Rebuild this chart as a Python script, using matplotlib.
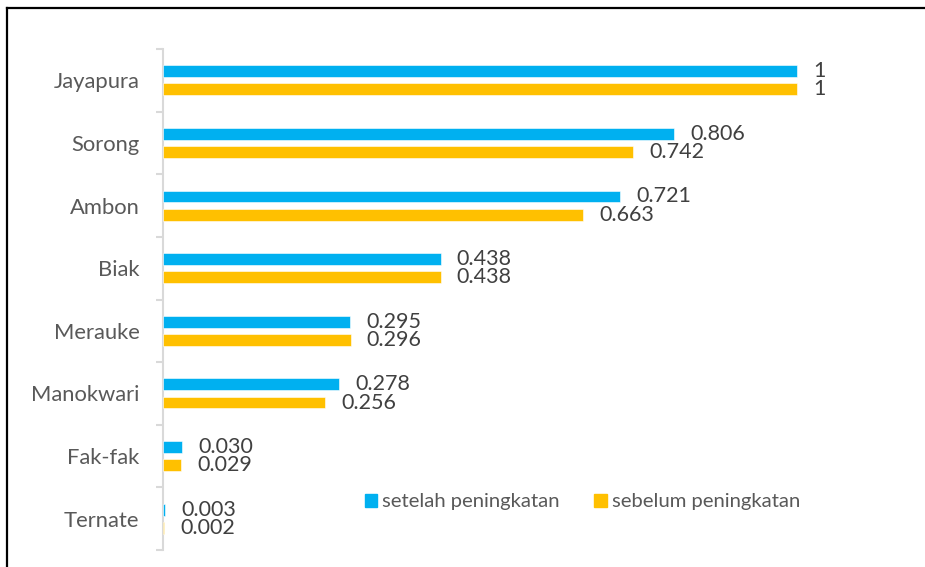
import matplotlib
matplotlib.use("Agg")
import matplotlib.pyplot as plt
from matplotlib.lines import Line2D
from matplotlib.patches import Patch
import numpy as np

plt.rcParams["font.family"] = ["Lato", "DejaVu Sans"]

cities = ["Jayapura", "Sorong", "Ambon", "Biak", "Merauke",
          "Manokwari", "Fak-fak", "Ternate"]
setelah = [1, 0.806, 0.721, 0.438, 0.295, 0.278, 0.030, 0.003]
sebelum = [1, 0.742, 0.663, 0.438, 0.296, 0.256, 0.029, 0.002]
setelah_txt = ["1", "0.806", "0.721", "0.438", "0.295", "0.278", "0.030", "0.003"]
sebelum_txt = ["1", "0.742", "0.663", "0.438", "0.296", "0.256", "0.029", "0.002"]

BLUE = "#00B0F0"
GOLD = "#FFC000"
GREY = "#595959"
DARK = "#404040"

W, H = 925, 567
fig = plt.figure(figsize=(W / 100, H / 100), dpi=100)
ax = fig.add_axes([163 / W, 1 - 550 / H, (W - 163) / W, 501 / H])

y = np.arange(len(cities))
off, bh = 0.145, 0.19
ax.barh(y - off, setelah, height=bh, color=BLUE, edgecolor="white",
        linewidth=0.4, label="setelah peningkatan", zorder=3)
ax.barh(y + off, sebelum, height=bh, color=GOLD, edgecolor="white",
        linewidth=0.4, label="sebelum peningkatan", zorder=3)

for yi, v, t in zip(y, setelah, setelah_txt):
    ax.annotate(t, (v, yi - off), xytext=(16, 0), textcoords="offset pixels",
                va="center", ha="left", fontsize=15.5, color=DARK)
for yi, v, t in zip(y, sebelum, sebelum_txt):
    ax.annotate(t, (v, yi + off), xytext=(16, 0), textcoords="offset pixels",
                va="center", ha="left", fontsize=15.5, color=DARK)

ax.set_xlim(0, (W - 163) / 634)
ax.set_ylim(len(cities) - 0.5, -0.5)
for s in ["top", "right", "bottom"]:
    ax.spines[s].set_visible(False)
ax.spines["left"].set_color("#D9D9D9")
ax.spines["left"].set_linewidth(1.5)
ax.set_xticks([])
ax.set_yticks(y)
ax.set_yticklabels(cities, fontsize=15.8, color=GREY)
ax.tick_params(axis="y", which="major", length=0, pad=17)
ax.set_yticks(np.arange(-0.5, len(cities)), minor=True)
ax.tick_params(axis="y", which="minor", length=5, width=1.5, color="#D9D9D9")

handles = [Patch(color=BLUE), Patch(color=GOLD)]
fig.legend(handles, ["setelah peningkatan", "sebelum peningkatan"],
           loc="center left", bbox_to_anchor=(347 / W, 1 - 502 / H),
           ncol=2, frameon=False, fontsize=14.6, labelcolor=GREY,
           handlelength=0.6, handleheight=0.6, handletextpad=0.25,
           columnspacing=1.7)

# outer frame (left and top only)
fig.add_artist(Line2D([6.5 / W, 6.5 / W], [0, 1 - 7.5 / H], color="black",
                      linewidth=1.6, transform=fig.transFigure))
fig.add_artist(Line2D([6.5 / W, 1], [1 - 7.5 / H, 1 - 7.5 / H], color="black",
                      linewidth=1.6, transform=fig.transFigure))

fig.savefig("out.png", dpi=100)
